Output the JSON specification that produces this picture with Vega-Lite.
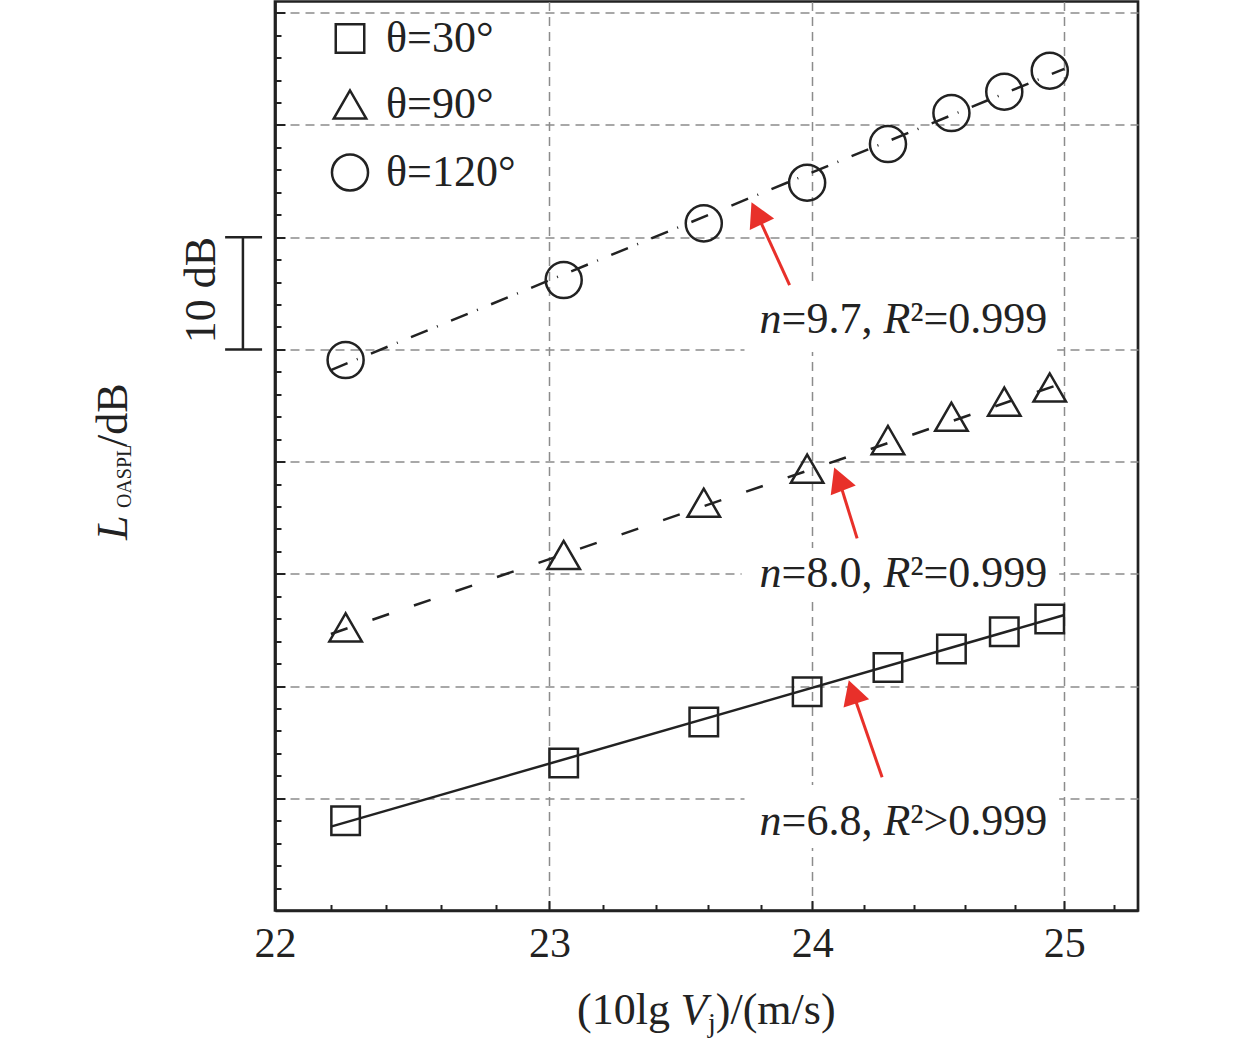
{
  "$schema": "https://vega.github.io/schema/vega-lite/v6.json",
  "width": 863,
  "height": 909,
  "autosize": {"type": "none"},
  "padding": {"left": 275, "top": 1.5, "right": 122, "bottom": 133.5},
  "background": "white",
  "view": {"stroke": "#222", "strokeWidth": 2.7},
  "config": {
    "text": {"font": "Liberation Serif", "color": "#222", "fontSize": 44, "baseline": "alphabetic"}
  },
  "datasets": {
    "pts": [
      {"series": "θ=30°", "x": 22.253, "y": 7.99},
      {"series": "θ=30°", "x": 23.053, "y": 13.14},
      {"series": "θ=30°", "x": 23.582, "y": 16.8},
      {"series": "θ=30°", "x": 23.98, "y": 19.5},
      {"series": "θ=30°", "x": 24.296, "y": 21.65},
      {"series": "θ=30°", "x": 24.547, "y": 23.3},
      {"series": "θ=30°", "x": 24.758, "y": 24.84},
      {"series": "θ=30°", "x": 24.941, "y": 25.97},
      {"series": "θ=90°", "x": 22.253, "y": 25.23},
      {"series": "θ=90°", "x": 23.053, "y": 31.68},
      {"series": "θ=90°", "x": 23.582, "y": 36.33},
      {"series": "θ=90°", "x": 23.98, "y": 39.37},
      {"series": "θ=90°", "x": 24.296, "y": 41.92},
      {"series": "θ=90°", "x": 24.547, "y": 44.0},
      {"series": "θ=90°", "x": 24.758, "y": 45.35},
      {"series": "θ=90°", "x": 24.941, "y": 46.6},
      {"series": "θ=120°", "x": 22.253, "y": 49.05},
      {"series": "θ=120°", "x": 23.053, "y": 56.18},
      {"series": "θ=120°", "x": 23.582, "y": 61.23},
      {"series": "θ=120°", "x": 23.98, "y": 64.85},
      {"series": "θ=120°", "x": 24.296, "y": 68.3},
      {"series": "θ=120°", "x": 24.547, "y": 71.06},
      {"series": "θ=120°", "x": 24.758, "y": 72.96},
      {"series": "θ=120°", "x": 24.941, "y": 74.83}
    ],
    "fits": [
      {"series": "θ=30°", "x": 22.2, "y": 7.47},
      {"series": "θ=30°", "x": 25.0, "y": 26.33},
      {"series": "θ=90°", "x": 22.2, "y": 24.64},
      {"series": "θ=90°", "x": 25.0, "y": 47.04},
      {"series": "θ=120°", "x": 22.2, "y": 48.16},
      {"series": "θ=120°", "x": 25.0, "y": 75.0}
    ],
    "arrows": [
      {"id": "a1", "x": 23.912, "y": 55.73, "x2": 23.785, "y2": 62.13},
      {"id": "a2", "x": 24.175, "y": 33.16, "x2": 24.103, "y2": 38.45},
      {"id": "a3", "x": 24.273, "y": 11.87, "x2": 24.157, "y2": 19.49}
    ]
  },
  "layer": [
    {
      "data": {"values": [
        {"x": 23.738, "x2": 24.971, "y": 49.76, "y2": 55.73},
        {"x": 23.727, "x2": 24.979, "y": 27.67, "y2": 32.3},
        {"x": 23.738, "x2": 24.979, "y": 5.57, "y2": 11.18}
      ]},
      "mark": {"type": "rect", "color": "white"},
      "encoding": {
        "x": {
          "field": "x", "type": "quantitative", "title": null,
          "scale": {"type": "log", "domain": [22, 25.3], "nice": false, "zero": false},
          "axis": {
            "values": [22, 22.2, 22.4, 22.6, 22.8, 23, 23.2, 23.4, 23.6, 23.8, 24, 24.2, 24.4, 24.6, 24.8, 25, 25.2],
            "tickCount": 100,
            "labelExpr": "abs(datum.value - round(datum.value)) < 0.001 ? format(datum.value, 'd') : ''",
            "labelFont": "Liberation Serif", "labelFontSize": 42, "labelColor": "#222",
            "labelPadding": 23, "labelFlush": false, "labelOverlap": false,
            "domainColor": "#222", "domainWidth": 2.7,
            "tickColor": "#222", "tickWidth": 2,
            "tickSize": {"condition": {"test": "abs(datum.value - round(datum.value)) < 0.001", "value": -10}, "value": -6},
            "grid": true, "gridColor": "#8c8c8c", "gridDash": [9, 6], "gridWidth": 1.5,
            "gridOpacity": {"condition": {"test": "abs(datum.value - round(datum.value)) < 0.001 && datum.value > 22.5", "value": 1}, "value": 0}
          }
        },
        "x2": {"field": "x2"},
        "y": {
          "field": "y", "type": "quantitative", "title": null,
          "scale": {"domain": [0, 81], "nice": false, "zero": false},
          "axis": {
            "values": [0, 2, 4, 6, 8, 10, 12, 14, 16, 18, 20, 22, 24, 26, 28, 30, 32, 34, 36, 38, 40, 42, 44, 46, 48, 50, 52, 54, 56, 58, 60, 62, 64, 66, 68, 70, 72, 74, 76, 78, 80],
            "tickCount": 100,
            "labels": false,
            "domainColor": "#222", "domainWidth": 2.7,
            "tickColor": "#222", "tickWidth": 2,
            "tickSize": {"condition": {"test": "datum.value % 10 == 0", "value": -10}, "value": -6},
            "grid": true, "gridColor": "#8c8c8c", "gridDash": [9, 6], "gridWidth": 1.5,
            "gridOpacity": {"condition": {"test": "datum.value % 10 == 0 && datum.value > 0", "value": 1}, "value": 0}
          }
        },
        "y2": {"field": "y2"}
      }
    },
    {
      "data": {"name": "fits"},
      "transform": [{"filter": "datum.series == 'θ=30°'"}],
      "mark": {"type": "line", "color": "#222", "strokeWidth": 2.5},
      "encoding": {
        "x": {"field": "x", "type": "quantitative", "title": null},
        "y": {"field": "y", "type": "quantitative", "title": null}
      }
    },
    {
      "data": {"name": "fits"},
      "transform": [{"filter": "datum.series == 'θ=90°'"}],
      "mark": {"type": "line", "color": "#222", "strokeWidth": 2.5, "strokeDash": [17.6, 26.3]},
      "encoding": {
        "x": {"field": "x", "type": "quantitative", "title": null},
        "y": {"field": "y", "type": "quantitative", "title": null}
      }
    },
    {
      "data": {"name": "fits"},
      "transform": [{"filter": "datum.series == 'θ=120°'"}],
      "mark": {"type": "line", "color": "#222", "strokeWidth": 2.5, "strokeDash": [18, 10, 1, 14.3]},
      "encoding": {
        "x": {"field": "x", "type": "quantitative", "title": null},
        "y": {"field": "y", "type": "quantitative", "title": null}
      }
    },
    {
      "data": {"name": "pts"},
      "mark": {"type": "point", "filled": false, "color": "#222", "strokeWidth": 2.5, "opacity": 1},
      "encoding": {
        "x": {"field": "x", "type": "quantitative", "title": null},
        "y": {"field": "y", "type": "quantitative", "title": null},
        "shape": {
          "field": "series", "type": "nominal",
          "scale": {"domain": ["θ=30°", "θ=90°", "θ=120°"], "range": ["square", "triangle-up", "circle"]},
          "legend": {
            "title": null, "orient": "none", "legendX": 53, "legendY": 15, "padding": 0,
            "labelFont": "Liberation Serif", "labelFontSize": 44, "labelColor": "#222",
            "symbolStrokeColor": "#222", "symbolStrokeWidth": 2.5, "symbolFillColor": "transparent",
            "rowPadding": 22, "labelOffset": 14
          }
        },
        "size": {
          "field": "series", "type": "nominal",
          "scale": {"domain": ["θ=30°", "θ=90°", "θ=120°"], "range": [812, 1300, 707]}
        }
      }
    },
    {
      "data": {"name": "arrows"},
      "mark": {"type": "rule", "color": "#e8302a", "strokeWidth": 3},
      "encoding": {
        "x": {"field": "x", "type": "quantitative", "title": null},
        "y": {"field": "y", "type": "quantitative", "title": null},
        "x2": {"field": "x2"},
        "y2": {"field": "y2"}
      }
    },
    {
      "data": {"name": "arrows"},
      "mark": {"type": "point", "shape": "M0,-1L1.1,1L-1.1,1Z", "filled": true, "color": "#e8302a", "size": 600, "opacity": 1},
      "encoding": {
        "x": {"field": "x2", "type": "quantitative", "title": null},
        "y": {"field": "y2", "type": "quantitative", "title": null},
        "angle": {
          "field": "id", "type": "nominal",
          "scale": {"domain": ["a1", "a2", "a3"], "range": [334.7, 342, 340.9]},
          "legend": null
        }
      }
    },
    {
      "data": {"values": [
        {"x": 21.886, "x2": 21.886, "y": 50, "y2": 60},
        {"x": 21.823, "x2": 21.954, "y": 50, "y2": 50},
        {"x": 21.823, "x2": 21.954, "y": 60, "y2": 60}
      ]},
      "mark": {"type": "rule", "color": "#222", "strokeWidth": 2.5},
      "encoding": {
        "x": {"field": "x", "type": "quantitative", "title": null},
        "y": {"field": "y", "type": "quantitative", "title": null},
        "x2": {"field": "x2"},
        "y2": {"field": "y2"}
      }
    },
    {
      "data": {"values": [
        {"x": 23.881, "y": 51.44, "t": "=9.7,"},
        {"x": 24.384, "y": 51.44, "t": "²=0.999"},
        {"x": 23.881, "y": 28.85, "t": "=8.0,"},
        {"x": 24.384, "y": 28.85, "t": "²=0.999"},
        {"x": 23.881, "y": 6.73, "t": "=6.8,"},
        {"x": 24.384, "y": 6.73, "t": "²>0.999"},
        {"x": 23.628, "y": -10.11, "t": ")/(m/s)"}
      ]},
      "mark": {"type": "text", "align": "left"},
      "encoding": {
        "x": {"field": "x", "type": "quantitative", "title": null},
        "y": {"field": "y", "type": "quantitative", "title": null},
        "text": {"field": "t"}
      }
    },
    {
      "data": {"values": [
        {"x": 23.453, "y": -10.11, "t": "(10lg"}
      ]},
      "mark": {"type": "text", "align": "right"},
      "encoding": {
        "x": {"field": "x", "type": "quantitative", "title": null},
        "y": {"field": "y", "type": "quantitative", "title": null},
        "text": {"field": "t"}
      }
    },
    {
      "data": {"values": [
        {"x": 23.881, "y": 51.44, "t": "n"},
        {"x": 24.384, "y": 51.44, "t": "R"},
        {"x": 23.881, "y": 28.85, "t": "n"},
        {"x": 24.384, "y": 28.85, "t": "R"},
        {"x": 23.881, "y": 6.73, "t": "n"},
        {"x": 24.384, "y": 6.73, "t": "R"}
      ]},
      "mark": {"type": "text", "align": "right", "fontStyle": "italic"},
      "encoding": {
        "x": {"field": "x", "type": "quantitative", "title": null},
        "y": {"field": "y", "type": "quantitative", "title": null},
        "text": {"field": "t"}
      }
    },
    {
      "data": {"values": [
        {"x": 23.493, "y": -10.11, "t": "V"}
      ]},
      "mark": {"type": "text", "align": "left", "fontStyle": "italic"},
      "encoding": {
        "x": {"field": "x", "type": "quantitative", "title": null},
        "y": {"field": "y", "type": "quantitative", "title": null},
        "text": {"field": "t"}
      }
    },
    {
      "data": {"values": [
        {"x": 23.598, "y": -10.83, "t": "j"}
      ]},
      "mark": {"type": "text", "align": "left", "fontSize": 28},
      "encoding": {
        "x": {"field": "x", "type": "quantitative", "title": null},
        "y": {"field": "y", "type": "quantitative", "title": null},
        "text": {"field": "t"}
      }
    },
    {
      "data": {"values": [
        {"x": 21.787, "y": 55.29, "t": "10 dB"}
      ]},
      "mark": {"type": "text", "align": "center", "angle": 270},
      "encoding": {
        "x": {"field": "x", "type": "quantitative", "title": null},
        "y": {"field": "y", "type": "quantitative", "title": null},
        "text": {"field": "t"}
      }
    },
    {
      "data": {"values": [
        {"x": 21.479, "y": 33.01, "t": "L"}
      ]},
      "mark": {"type": "text", "align": "left", "angle": 270, "fontStyle": "italic"},
      "encoding": {
        "x": {"field": "x", "type": "quantitative", "title": null},
        "y": {"field": "y", "type": "quantitative", "title": null},
        "text": {"field": "t"}
      }
    },
    {
      "data": {"values": [
        {"x": 21.493, "y": 35.86, "t": "OASPL"}
      ]},
      "mark": {"type": "text", "align": "left", "angle": 270, "fontSize": 20},
      "encoding": {
        "x": {"field": "x", "type": "quantitative", "title": null},
        "y": {"field": "y", "type": "quantitative", "title": null},
        "text": {"field": "t"}
      }
    },
    {
      "data": {"values": [
        {"x": 21.479, "y": 41.3, "t": "/dB"}
      ]},
      "mark": {"type": "text", "align": "left", "angle": 270},
      "encoding": {
        "x": {"field": "x", "type": "quantitative", "title": null},
        "y": {"field": "y", "type": "quantitative", "title": null},
        "text": {"field": "t"}
      }
    }
  ]
}
